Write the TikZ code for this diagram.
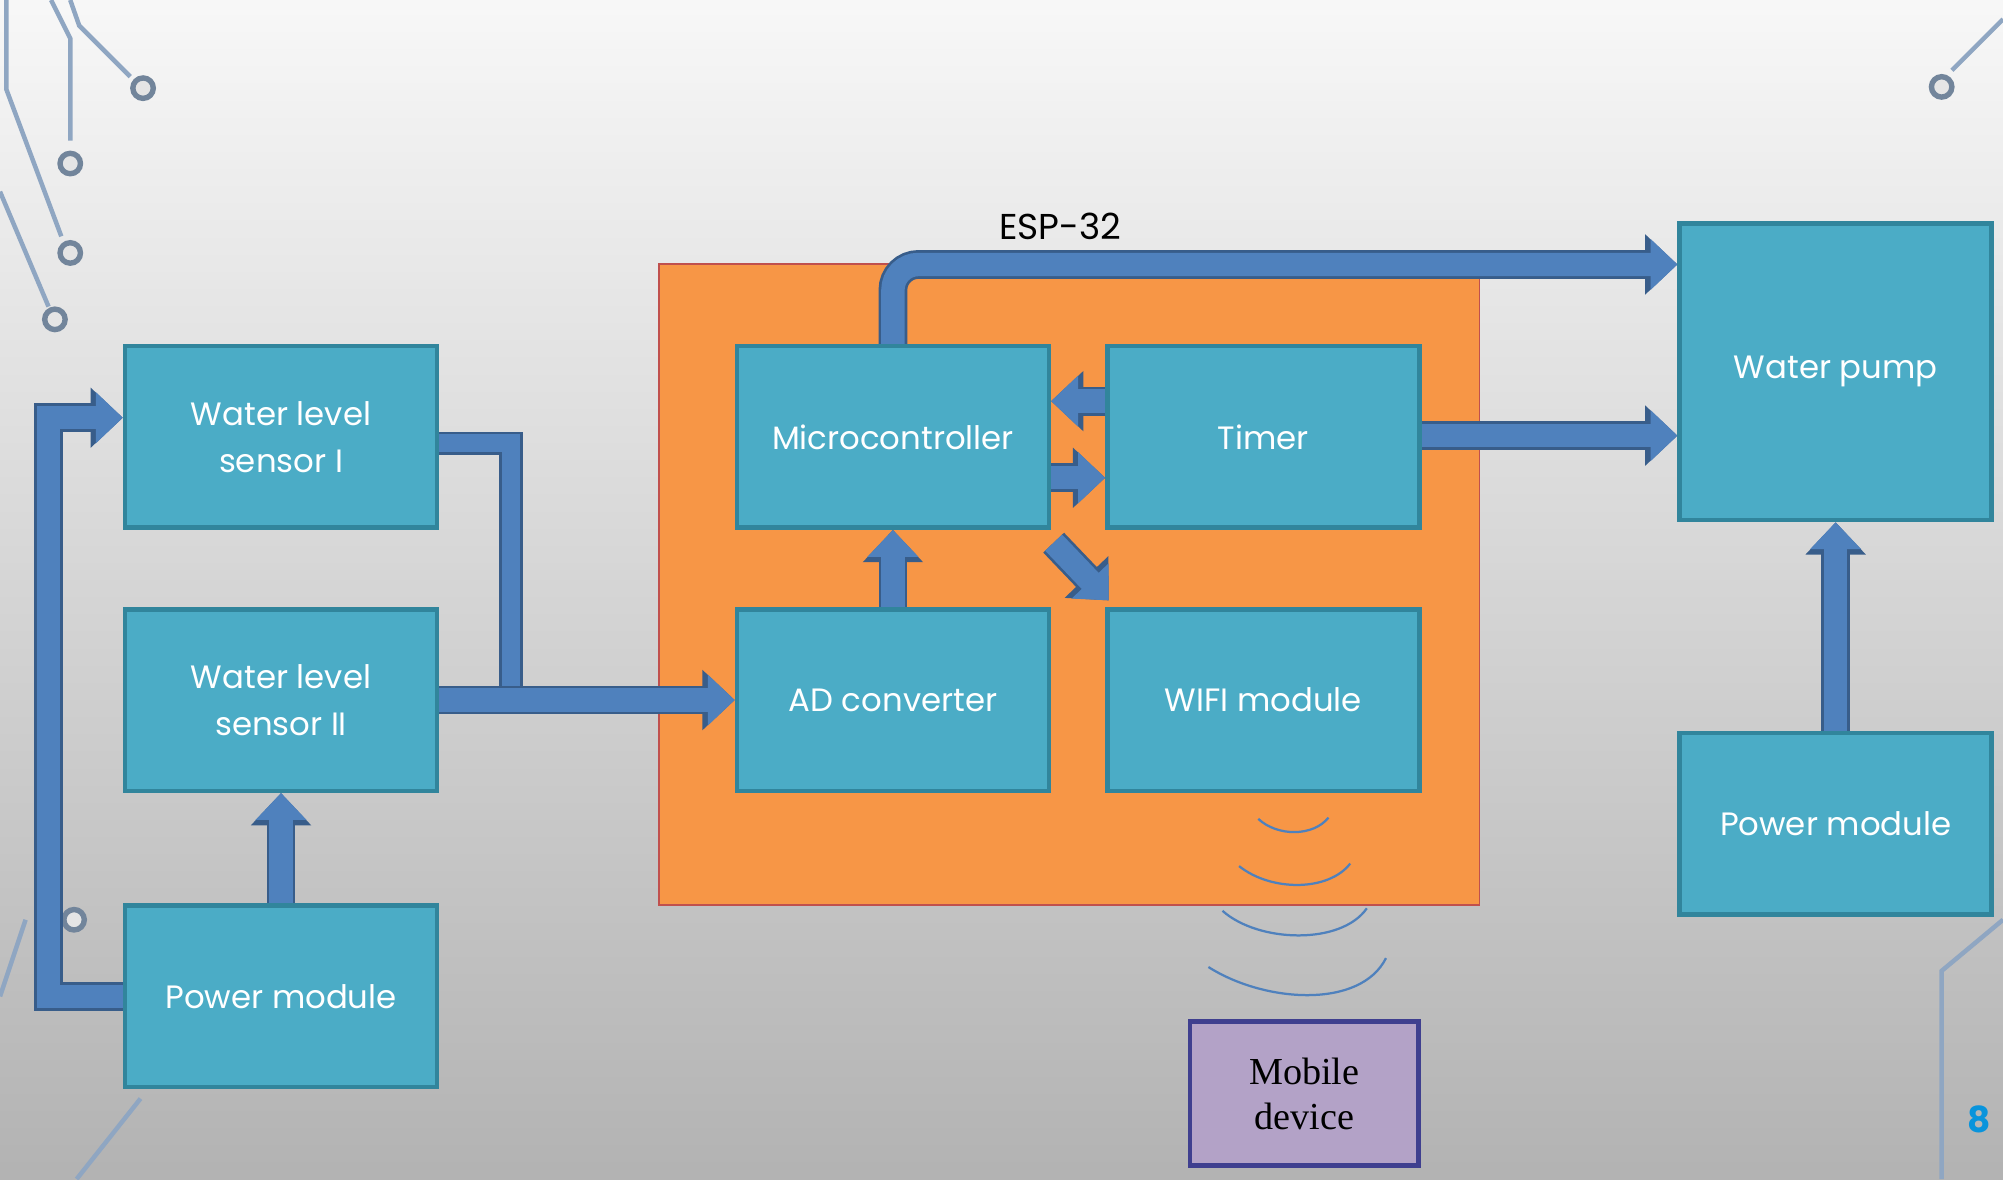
\documentclass[tikz,border=0pt]{standalone}
\usepackage{fontspec}
\setmainfont{Poppins}
\newfontfamily\serifface{Liberation Serif}
\usetikzlibrary{arrows.meta}
\definecolor{boxfill}{HTML}{4BACC6}
\definecolor{boxedge}{HTML}{31859C}
\definecolor{espfill}{HTML}{F79646}
\definecolor{espedge}{HTML}{C0504D}
\definecolor{arrfill}{HTML}{4F81BD}
\definecolor{arredge}{HTML}{385D8A}
\definecolor{mobfill}{HTML}{B3A2C7}
\definecolor{mobedge}{HTML}{3F3F8F}
\definecolor{deco}{HTML}{8FA6C2}
\tikzset{blk/.style={draw=boxedge, fill=boxfill, line width=1pt, text=white, minimum width=2.44cm, minimum height=1.42cm, inner sep=0pt, align=center, font=\fontsize{7.2}{10.5}\selectfont}}
\tikzset{bedge/.style={line width=6.4pt, draw=arredge, -{Triangle[width=13pt,length=7.2pt]}}}
\tikzset{bfill/.style={line width=5.2pt, draw=arrfill, -{Triangle[width=11pt,length=6pt]}}}
\tikzset{wave/.style={draw=arrfill, line width=0.5pt}}
\newcommand\blockarrow[2][]{\draw[bedge,#1] #2; \draw[bfill,#1] #2;}

\begin{document}
\begin{tikzpicture}[x=0.01cm, y=-0.01cm]
\shade[top color=white!97!black, bottom color=black!30] (0,0) rectangle (1568,923);
\useasboundingbox (0,0) rectangle (1568,923);

% corner decorations
\draw[deco, line width=1pt] (40,0) -- (55,30) -- (55,110);
\draw[deco, line width=1pt] (55,0) -- (62,20) -- (102,60);
\draw[deco, line width=1pt] (5,0) -- (5,70) -- (48,185);
\draw[deco, line width=1pt] (0,150) -- (38,240);
\draw[deco, line width=1pt] (1568,15) -- (1528,55);
\draw[deco, line width=1pt] (1568,720) -- (1520,760) -- (1520,923);
\draw[deco, line width=1pt] (0,780) -- (20,720);
\draw[deco, line width=1pt] (60,923) -- (110,860);
\foreach \p in {(112,69),(55,128),(55,198),(43,250),(1520,68),(58,720)}
  \draw[deco!80!black, line width=1.2pt, fill=white!90!black] \p circle (8);

% ESP-32 board
\node[draw=espedge, fill=espfill, minimum width=6.42cm, minimum height=5.01cm, inner sep=0pt] (esp) at (837,457.5) {};
\node[font=\fontsize{8}{10}\selectfont] (esplabel) at (830,177) {ESP-32};

% blocks
\node[blk] (wl1) at (220,342) {Water level\\sensor I};
\node[blk] (wl2) at (220,548) {Water level\\sensor II};
\node[blk] (pwl) at (220,780) {Power module};
\node[blk] (mcu) at (699,342) {Microcontroller};
\node[blk] (tmr) at (989,342) {Timer};
\node[blk] (adc) at (699,548) {AD converter};
\node[blk] (wifi) at (989,548) {WIFI module};
\node[blk, minimum height=2.32cm] (pump) at (1437,291) {Water pump};
\node[blk] (pwr) at (1437,645) {Power module};
\node[draw=mobedge, fill=mobfill, line width=1pt, minimum width=1.79cm, minimum height=1.13cm, align=center, font=\serifface\fontsize{8.5}{10}\selectfont] (mob) at (1021,856) {Mobile\\device};

% connectors
\blockarrow{(pwl.west |- 0,780) -- (38,780) -- (38,327) -- (wl1.west |- 0,327)}
\draw[line width=5.2pt, draw=arredge] (wl1.east |- 0,347) -- (400,347) -- (400,555);
\draw[line width=4pt, draw=arrfill] (wl1.east |- 0,347) -- (400,347) -- (400,555);
\blockarrow{(wl2.east) -- (adc.west)}
\blockarrow{(pwl.north) -- (wl2.south)}
\blockarrow{(adc.north) -- (mcu.south)}
\blockarrow{(tmr.west |- 0,314) -- (mcu.east |- 0,314)}
\blockarrow{(mcu.east |- 0,374) -- (tmr.west |- 0,374)}
\blockarrow{(mcu.south east) ++(2,10) -- (868,470)}
\blockarrow[rounded corners=0.2cm]{(mcu.north) -- (699,207) -- (pump.west |- 0,207)}
\blockarrow{(tmr.east |- 0,341) -- (pump.west |- 0,341)}
\blockarrow{(pwr.north) -- (pump.south)}

% wireless signal
\draw[wave] (985,641) .. controls (1000,655) and (1028,655) .. (1040,640);
\draw[wave] (970,678) .. controls (995,698) and (1040,698) .. (1057,676);
\draw[wave] (957,713) .. controls (985,738) and (1050,740) .. (1070,711);
\draw[wave] (946,757) .. controls (990,785) and (1065,790) .. (1085,750);

\node[text=cyan!80!blue, font=\bfseries\fontsize{8}{10}\selectfont] (page) at (1549,876) {8};
\end{tikzpicture}
\end{document}
